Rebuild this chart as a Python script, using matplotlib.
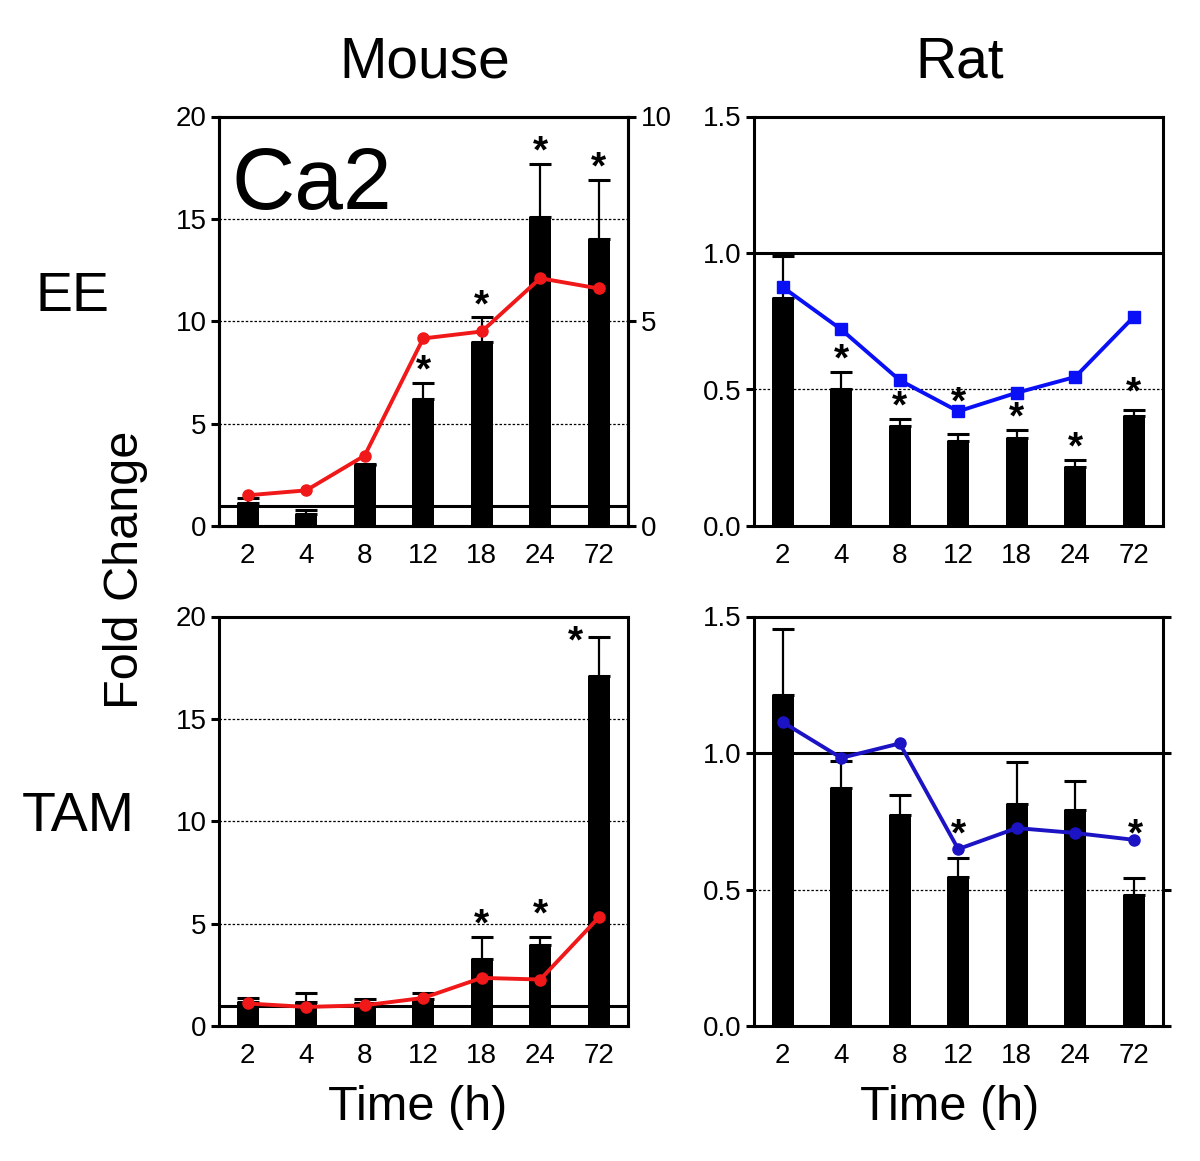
import matplotlib.pyplot as plt
import numpy as np

plt.rcParams['font.family'] = ['Liberation Sans', 'DejaVu Sans']

times = ['2', '4', '8', '12', '18', '24', '72']

# Mouse EE (bars on left axis, line on right axis 0-10)
mouse_ee_bar = [1.14, 0.60, 3.00, 6.20, 9.00, 15.10, 14.00]
mouse_ee_sem = [0.24, 0.20, 0.05, 0.80, 1.20, 2.60, 2.90]
mouse_ee_line = [0.75, 0.87, 1.72, 4.58, 4.75, 6.05, 5.80]
mouse_ee_stars = {'12': 'bar', '18': 'bar', '24': 'bar', '72': 'bar'}

# Rat EE
rat_ee_bar = [0.836, 0.500, 0.365, 0.311, 0.321, 0.216, 0.402]
rat_ee_sem = [0.154, 0.064, 0.028, 0.027, 0.032, 0.027, 0.022]
rat_ee_line = [0.875, 0.720, 0.534, 0.420, 0.488, 0.546, 0.766]
rat_ee_stars = {'4': 'bar', '8': 'bar', '12': 'line', '18': 'bar', '24': 'bar', '72': 'bar'}

# Mouse TAM
mouse_tam_bar = [1.17, 1.17, 1.10, 1.31, 3.25, 3.94, 17.10]
mouse_tam_sem = [0.20, 0.42, 0.21, 0.31, 1.11, 0.42, 1.90]
mouse_tam_line = [1.10, 0.93, 1.01, 1.37, 2.35, 2.27, 5.30]
mouse_tam_stars = {'18': 'bar', '24': 'bar', '72': 'bar'}

# Rat TAM
rat_tam_bar = [1.212, 0.872, 0.773, 0.547, 0.813, 0.793, 0.479]
rat_tam_sem = [0.241, 0.100, 0.073, 0.070, 0.153, 0.104, 0.062]
rat_tam_line = [1.113, 0.982, 1.035, 0.648, 0.725, 0.707, 0.682]
rat_tam_stars = {'12': 'line', '72': 'line'}

RED = '#f01818'
BLUE1 = '#0a10f5'
BLUE2 = '#1c14c4'
LW = 2.2
TICK_FS = 20

fig = plt.figure(figsize=(12, 11.61), dpi=100)

W = 409 / 1200
H = 409.5 / 1161
ax_tl = fig.add_axes([219 / 1200, 1 - 526 / 1161, W, H])
ax_tr = fig.add_axes([754 / 1200, 1 - 526 / 1161, W, H])
ax_bl = fig.add_axes([219 / 1200, 1 - 1026 / 1161, W, H])
ax_br = fig.add_axes([754 / 1200, 1 - 1026 / 1161, W, H])


def panel(ax, bars, sem, ymax, yticks, grid, star_map, line=None, line_ax=None,
          color=RED, marker='o', right_ticks=False, star_offset=None):
    x = np.arange(len(times))
    for s in ax.spines.values():
        s.set_linewidth(LW)
    for g in grid:
        ax.axhline(g, color='black', lw=0.9, ls=(0, (2, 1.5)), zorder=0)
    ax.axhline(1.0, color='black', lw=LW, zorder=1)
    ax.bar(x, bars, width=0.38, color='black', zorder=2)
    ax.errorbar(x, bars, yerr=[np.zeros(len(sem)), sem], fmt='none', ecolor='black',
                elinewidth=1.6, capsize=8, capthick=2.2, zorder=2)
    tops = np.array(bars) + np.array(sem)
    lax = ax if line_ax is None else line_ax
    if line is not None:
        lax.plot(x, line, color=color, lw=LW + 0.6, marker=marker, ms=8, zorder=5)
    ax.set_xlim(-0.49, 6.5)
    ax.set_ylim(0, ymax)
    ax.set_yticks(yticks)
    ax.set_xticks(x)
    ax.set_xticklabels(times)
    ax.tick_params(axis='x', length=0, pad=12, labelsize=TICK_FS)
    ax.tick_params(axis='y', direction='out', length=6, width=LW, pad=3,
                   labelsize=TICK_FS, right=right_ticks)
    # significance stars
    for i, t in enumerate(times):
        if t not in star_map:
            continue
        if star_map[t] == 'bar':
            yv = ax.transData.transform((0, tops[i]))[1]
        else:
            yv = lax.transData.transform((0, line[i]))[1]
        dx, dy = (0, 8)
        if star_offset and t in star_offset:
            dx, dy = star_offset[t]
        y_data = ax.transData.inverted().transform((0, yv))[1]
        ax.annotate('*', xy=(i, y_data), xytext=(dx, dy), textcoords='offset points',
                    ha='center', va='center', fontsize=28, fontweight='bold', zorder=6)


# top-left with twin axis
ax_tl2 = ax_tl.twinx()
ax_tl2.set_ylim(0, 10)
ax_tl2.set_yticks([0, 5, 10])
ax_tl2.tick_params(axis='y', direction='out', length=6, width=LW, pad=3, labelsize=TICK_FS)
for s in ax_tl2.spines.values():
    s.set_linewidth(LW)
panel(ax_tl, mouse_ee_bar, mouse_ee_sem, 20, [0, 5, 10, 15, 20], [5, 10, 15],
      mouse_ee_stars, line=mouse_ee_line, line_ax=ax_tl2, color=RED, marker='o')
ax_tl2.set_zorder(ax_tl.get_zorder() + 1)
ax_tl2.patch.set_visible(False)
ax_tl.text(0.03, 0.83, 'Ca2', transform=ax_tl.transAxes, fontsize=63,
           ha='left', va='center')

panel(ax_tr, rat_ee_bar, rat_ee_sem, 1.5, [0.0, 0.5, 1.0, 1.5], [0.5],
      rat_ee_stars, line=rat_ee_line, color=BLUE1, marker='s',
      star_offset={'12': (0, 6), '72': (0, 12)})
ax_tr.set_yticklabels(['0.0', '0.5', '1.0', '1.5'])

panel(ax_bl, mouse_tam_bar, mouse_tam_sem, 20, [0, 5, 10, 15, 20], [5, 10, 15],
      mouse_tam_stars, line=mouse_tam_line, color=RED, marker='o',
      star_offset={'24': (0, 15), '72': (-17, -4)})

panel(ax_br, rat_tam_bar, rat_tam_sem, 1.5, [0.0, 0.5, 1.0, 1.5], [0.5],
      rat_tam_stars, line=rat_tam_line, color=BLUE2, marker='o', right_ticks=True,
      star_offset={'12': (0, 10), '72': (1, 3)})
ax_br.set_yticklabels(['0.0', '0.5', '1.0', '1.5'])

# labels
fig.text(425 / 1200, 1 - 62 / 1161, 'Mouse', fontsize=41, ha='center', va='center')
fig.text(960 / 1200, 1 - 62 / 1161, 'Rat', fontsize=41, ha='center', va='center')
fig.text(73 / 1200, 1 - 297 / 1161, 'EE', fontsize=40, ha='center', va='center')
fig.text(78 / 1200, 1 - 817 / 1161, 'TAM', fontsize=40, ha='center', va='center')
fig.text(125 / 1200, 1 - 570 / 1161, 'Fold Change', fontsize=35, ha='center',
         va='center', rotation=90)
fig.text(418 / 1200, 1 - 1108 / 1161, 'Time (h)', fontsize=35, ha='center', va='center')
fig.text(950 / 1200, 1 - 1108 / 1161, 'Time (h)', fontsize=35, ha='center', va='center')

fig.savefig('out.png', dpi=100)
